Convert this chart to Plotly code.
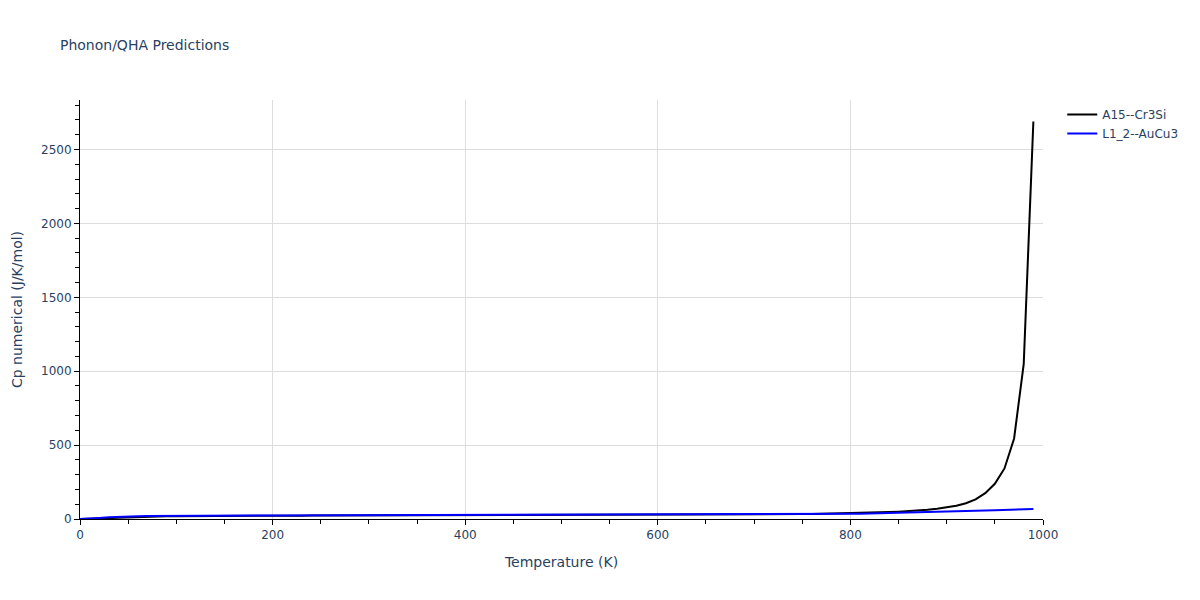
import plotly.graph_objects as go

temperature = [0, 10, 20, 30, 40, 50, 60, 70, 80, 90,
               100, 110, 120, 130, 140, 150, 160, 170, 180, 190,
               200, 210, 220, 230, 240, 250, 260, 270, 280, 290,
               300, 310, 320, 330, 340, 350, 360, 370, 380, 390,
               400, 410, 420, 430, 440, 450, 460, 470, 480, 490,
               500, 510, 520, 530, 540, 550, 560, 570, 580, 590,
               600, 610, 620, 630, 640, 650, 660, 670, 680, 690,
               700, 710, 720, 730, 740, 750, 760, 770, 780, 790,
               800, 810, 820, 830, 840, 850, 860, 870, 880, 890,
               900, 910, 920, 930, 940, 950, 960, 970, 980, 990]

cp_cr3si = [0.0, 0.4, 2.5, 5.8, 9.0, 11.8, 14.0, 15.7, 17.0, 18.0,
            18.8, 19.5, 20.0, 20.5, 20.9, 21.2, 21.5, 21.8, 22.0, 22.2,
            22.4, 22.5, 22.7, 22.8, 22.9, 23.0, 23.1, 23.2, 23.3, 23.4,
            23.5, 23.6, 23.7, 23.8, 23.9, 24.0, 24.1, 24.2, 24.3, 24.4,
            24.5, 24.6, 24.7, 24.8, 24.9, 25.0, 25.1, 25.2, 25.3, 25.5,
            25.6, 25.7, 25.9, 26.0, 26.2, 26.3, 26.5, 26.7, 26.9, 27.1,
            27.3, 27.5, 27.8, 28.0, 28.3, 28.6, 28.9, 29.3, 29.7, 30.1,
            30.6, 31.1, 31.7, 32.3, 33.0, 33.8, 34.6, 35.6, 36.7, 37.9,
            39.3, 40.8, 42.6, 44.6, 47.0, 49.7, 53.0, 57.0, 62.0, 69.0,
            78.0, 90.0, 107.0, 133.0, 175.0, 238.0, 342.0, 545.0, 1050.0, 2690.0]

cp_aucu3 = [0.0, 2.0, 7.5, 12.5, 15.8, 17.9, 19.2, 20.1, 20.8, 21.3,
            21.7, 22.0, 22.3, 22.5, 22.7, 22.9, 23.0, 23.2, 23.3, 23.4,
            23.5, 23.6, 23.7, 23.8, 23.9, 24.0, 24.1, 24.2, 24.3, 24.4,
            24.5, 24.6, 24.7, 24.9, 25.0, 25.1, 25.2, 25.3, 25.5, 25.6,
            25.7, 25.8, 25.9, 26.1, 26.2, 26.3, 26.4, 26.5, 26.7, 26.8,
            26.9, 27.1, 27.3, 27.5, 27.7, 27.9, 28.1, 28.3, 28.5, 28.7,
            28.9, 29.1, 29.3, 29.5, 29.7, 29.9, 30.1, 30.3, 30.5, 30.7,
            30.9, 31.3, 31.7, 32.1, 32.5, 32.9, 33.3, 33.8, 34.2, 34.6,
            35.0, 36.2, 37.5, 38.8, 40.2, 41.6, 43.1, 44.7, 46.3, 48.0,
            49.7, 51.5, 53.4, 55.3, 57.3, 59.4, 61.5, 63.7, 66.0, 68.4]

series_names = ["A15--Cr3Si", "L1_2--AuCu3"]
series_colors = ["black", "blue"]

fig = go.Figure()
for name, color, values in zip(series_names, series_colors, [cp_cr3si, cp_aucu3]):
    fig.add_trace(go.Scatter(x=temperature, y=values, mode="lines", name=name,
                             line=dict(color=color, width=2)))

axis_common = dict(
    showline=True, linecolor="black", linewidth=1,
    ticks="outside", tickcolor="black", ticklen=5,
    showgrid=True, gridcolor="#dddddd", gridwidth=1,
    zeroline=False, automargin=False,
    tickfont=dict(size=12, color="#2a3f5f"),
)

fig.update_layout(
    width=1200, height=600,
    title=dict(text="Phonon/QHA Predictions", x=0.0433, y=0.947,
               font=dict(size=14, color="#2a3f5f")),
    paper_bgcolor="white", plot_bgcolor="white",
    font=dict(family="DejaVu Sans, Verdana, sans-serif", color="#2a3f5f"),
    margin=dict(l=72, r=165, t=92, b=89),
    legend=dict(x=1.02, y=1.0, xanchor="left", yanchor="top",
                font=dict(size=12, color="#2a3f5f")),
    xaxis=dict(title=dict(text="Temperature (K)", font=dict(size=14)),
               range=[0, 1000], dtick=200,
               minor=dict(ticks="outside", dtick=50, ticklen=4, tickcolor="black", showgrid=False),
               **axis_common),
    yaxis=dict(title=dict(text="Cp numerical (J/K/mol)", font=dict(size=14)),
               range=[0, 2835], dtick=500,
               minor=dict(ticks="outside", dtick=100, ticklen=4, tickcolor="black", showgrid=False),
               **axis_common),
)

fig.write_html("out.html")
